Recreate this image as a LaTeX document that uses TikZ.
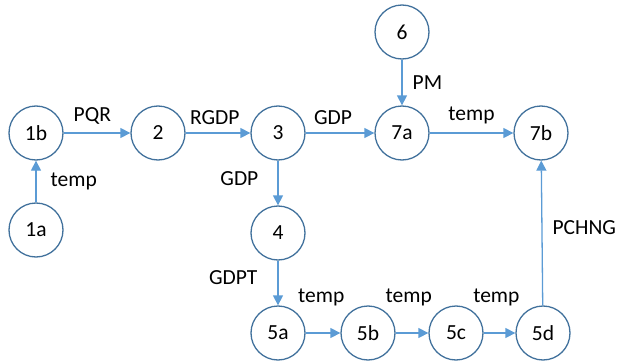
\documentclass[tikz,border=0pt]{standalone}
\usepackage{fontspec}
\setmainfont{Carlito}
\usetikzlibrary{arrows.meta}

\begin{document}
\begin{tikzpicture}[x=1pt,y=-1pt,
  state/.style={circle,draw=circblue,line width=1.3pt,minimum size=54pt,
    inner sep=0pt,font=\fontsize{21.5}{25}\selectfont},
  flow/.style={draw=arrowblue,line width=1.3pt,
    -{Triangle[length=10pt,width=10pt]}},
  lbl/.style={font=\fontsize{21.5}{25}\selectfont,inner sep=1pt}]

\pgfmathsetmacro\circblueR{65/255}
\pgfmathsetmacro\circblueG{113/255}
\pgfmathsetmacro\circblueB{156/255}

\pgfmathsetmacro\arrowblueR{91/255}
\pgfmathsetmacro\arrowblueG{155/255}
\pgfmathsetmacro\arrowblueB{213/255}

\definecolor{circblue}{rgb}{\circblueR, \circblueG, \circblueB}
\definecolor{arrowblue}{rgb}{\arrowblueR, \arrowblueG, \arrowblueB}

\useasboundingbox (0,0) rectangle (622,364);

% states
\node[state] (s1b) at (36,133) {1b};
\node[state] (s1a) at (36,230) {1a};
\node[state] (s2) at (158,133) {2};
\node[state] (s3) at (278,133) {3};
\node[state] (s4) at (278,233) {4};
\node[state] (s6) at (402,32) {6};
\node[state] (s7a) at (402,133) {7a};
\node[state] (s7b) at (541,133) {7b};
\node[state] (s5a) at (278,333) {5a};
\node[state] (s5b) at (368,333) {5b};
\node[state] (s5c) at (456,333) {5c};
\node[state] (s5d) at (543,333) {5d};

% flows
\draw[flow] (s1a) -- node[lbl,right=13pt] {temp} (s1b);
\draw[flow] (s1b) -- node[lbl,above=7pt,pos=0.43] {PQR} (s2);
\draw[flow] (s2) -- node[lbl,above=7pt,pos=0.45] {RGDP} (s3);
\draw[flow] (s3) -- node[lbl,above=7pt,pos=0.4] {GDP} (s7a);
\draw[flow] (s7a) -- node[lbl,above=7pt] {temp} (s7b);
\draw[flow] (s6) -- node[lbl,right=9pt] {PM} (s7a);
\draw[flow] (s3) -- node[lbl,left=18pt,pos=0.4] {GDP} (s4);
\draw[flow] (s4) -- node[lbl,left=19pt,pos=0.38] {GDPT} (s5a);
\draw[flow] (s5a) -- node[lbl,above=25pt,pos=0.45] {temp} (s5b);
\draw[flow] (s5b) -- node[lbl,above=25pt,pos=0.4] {temp} (s5c);
\draw[flow] (s5c) -- node[lbl,above=25pt,pos=0.4] {temp} (s5d);
\draw[flow] (s5d) -- node[lbl,right=9pt,pos=0.54] {PCHNG} (s7b);

\end{tikzpicture}
\end{document}
